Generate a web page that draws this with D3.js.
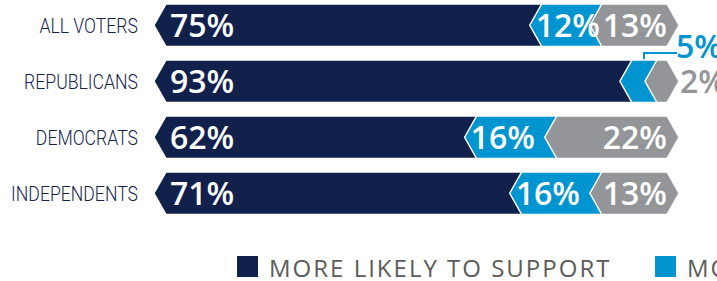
<!DOCTYPE html>
<html>
<head>
<meta charset="utf-8">
<script src="https://cdn.jsdelivr.net/npm/d3@7"></script>
<style>
  html, body { margin: 0; padding: 0; background: #fff; overflow: hidden; }
  svg { display: block; }
</style>
</head>
<body>
<svg id="chart" width="717" height="281"></svg>
<script>
const categories = ["ALL VOTERS", "REPUBLICANS", "DEMOCRATS", "INDEPENDENTS"];
const seriesNames = ["MORE LIKELY TO SUPPORT", "MORE LIKELY TO OPPOSE", "NO DIFFERENCE"];
const moreLikelySupport = [75, 93, 62, 71];
const moreLikelyOppose = [12, 5, 16, 16];
const noDifference = [13, 2, 22, 13];
const seriesColors = ["#11214b", "#0095d0", "#939598"];

const svg = d3.select("#chart");
const x = d3.scaleLinear().domain([0, 100]).range([166, 667]);
const y = d3.scaleBand().domain(categories).range([4, 214.5]).paddingInner(0.241).paddingOuter(0);
const D = 12; // chevron depth
const series = [moreLikelySupport, moreLikelyOppose, noDifference];

const rows = categories.map((c, i) => {
  let acc = 0;
  const segs = series.map((s, k) => {
    const seg = { k, v: s[i], x0: x(acc), x1: x(acc + s[i]) };
    acc += s[i];
    return seg;
  });
  return { c, segs };
});

function chevron(x0, x1, top, h) {
  const mid = top + h / 2, bot = top + h;
  return `M${x0},${top}L${x1},${top}L${x1 + D},${mid}L${x1},${bot}L${x0},${bot}L${x0 - D},${mid}Z`;
}

const bh = y.bandwidth();

// category labels
svg.append("g").selectAll("text").data(categories).join("text")
  .attr("transform", d => `translate(138,${y(d) + bh / 2 + 8}) scale(0.84,1)`)
  .attr("text-anchor", "end")
  .attr("font-family", "Roboto, 'Open Sans', sans-serif")
  .attr("font-weight", 300)
  .attr("font-size", 21)
  .attr("fill", "#14244c")
  .text(d => d);

const rowG = svg.append("g").selectAll("g").data(rows).join("g");

rowG.each(function (r) {
  const g = d3.select(this);
  const top = y(r.c), mid = top + bh / 2;
  g.selectAll("path").data(r.segs).join("path")
    .attr("d", s => chevron(s.x0, s.x1, top, bh))
    .attr("fill", s => seriesColors[s.k])
    .attr("stroke", "#fff")
    .attr("stroke-width", 1.5)
    .attr("stroke-linejoin", "miter");

  r.segs.forEach(s => {
    const big = s.v >= 8;
    const t = g.append("text")
      .attr("font-family", "'Open Sans', sans-serif")
      .attr("font-weight", 600)
      .attr("font-size", 32)
      .text(s.v + "%");
    if (big) {
      t.attr("fill", "#fff").attr("y", mid + 11.5);
      if (s.k === 0) t.attr("x", s.x0 + 4).attr("text-anchor", "start");
      else if (s.k === 1) t.attr("x", s.x0 - 6).attr("text-anchor", "start");
      else t.attr("x", s.x1).attr("text-anchor", "end");
    } else {
      t.attr("fill", seriesColors[s.k]).attr("text-anchor", "start");
      const endX = x(100);
      if (s.k === 1) {
        const lx = (s.x0 + s.x1) / 2 - 0.5;
        const ly = top - 7;
        g.insert("path", "path")
          .attr("d", `M${lx},${top + 4}L${lx},${ly}L${endX + 10},${ly}`)
          .attr("fill", "none").attr("stroke", seriesColors[1]).attr("stroke-width", 2);
        t.attr("x", endX + 9).attr("y", top - 1.5);
      } else {
        t.attr("x", endX + 13).attr("y", mid + 11.5);
      }
    }
  });
});

// legend
const legend = svg.append("g");
const legX = [237, 655, 1000];
seriesNames.forEach((n, i) => {
  legend.append("rect").attr("x", legX[i]).attr("y", 256).attr("width", 21).attr("height", 21)
    .attr("fill", seriesColors[i]);
  legend.append("text").attr("x", legX[i] + 32).attr("y", 277)
    .attr("font-family", "'Open Sans', sans-serif").attr("font-size", 24)
    .attr("letter-spacing", 2).attr("fill", "#5b5b5b").text(n);
});
</script>
</body>
</html>
